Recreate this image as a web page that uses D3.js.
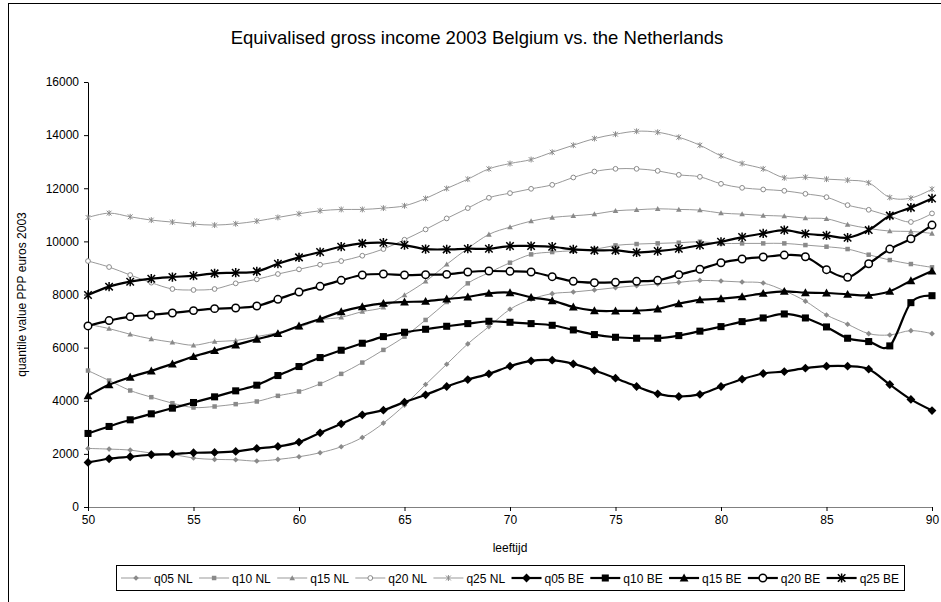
<!DOCTYPE html>
<html>
<head>
<meta charset="utf-8">
<script src="https://cdn.jsdelivr.net/npm/d3@7"></script>
<style>
  html, body { margin: 0; padding: 0; background: #fff; }
  svg { display: block; font-family: "Liberation Sans", Arial, sans-serif; }
</style>
</head>
<body>
<svg id="chart" width="941" height="602"></svg>
<script>
// Ages on the x axis
const ages = d3.range(50, 91);

// Netherlands quantiles (euros PPP, 2003)
const q05NL = [2205,2180,2143,2030,1980,1842,1792,1779,1729,1792,1892,2042,2268,2619,3158,3834,4611,5375,6140,6791,7443,7819,8032,8094,8170,8257,8332,8395,8458,8530,8508,8470,8432,8143,7750,7229,6880,6527,6477,6640,6527];
const q10NL = [5137,4761,4386,4135,3909,3746,3784,3872,3972,4185,4348,4636,5012,5438,5914,6415,7042,7718,8420,8821,9197,9510,9598,9648,9698,9849,9899,9924,9949,9986,9924,9924,9924,9924,9861,9799,9711,9498,9297,9147,9023];
const q15NL = [6879,6716,6503,6328,6202,6090,6227,6265,6415,6566,6766,7042,7142,7355,7518,7982,8495,9134,9736,10262,10538,10763,10901,10964,11026,11152,11189,11227,11202,11177,11064,11026,10976,10951,10876,10851,10638,10488,10387,10375,10300];
const q20NL = [9260,9034,8733,8445,8207,8170,8207,8420,8571,8771,8946,9122,9260,9460,9711,10062,10450,10864,11252,11640,11816,11979,12129,12405,12630,12731,12731,12655,12505,12430,12167,12016,11954,11904,11791,11665,11365,11189,10951,10730,11053];
const q25NL = [10901,11064,10926,10801,10726,10650,10613,10663,10763,10901,11039,11152,11202,11202,11252,11340,11615,11991,12342,12730,12931,13081,13357,13620,13871,14034,14146,14109,13921,13620,13219,12931,12730,12392,12417,12342,12304,12204,11653,11630,11966];

// Belgium quantiles (euros PPP, 2003)
const q05BE = [1679,1817,1892,1967,1992,2042,2055,2093,2205,2280,2443,2794,3133,3471,3646,3947,4223,4536,4799,5012,5300,5501,5526,5388,5137,4849,4536,4260,4160,4240,4536,4811,5025,5100,5225,5300,5300,5187,4611,4050,3632];
const q10BE = [2769,3032,3283,3508,3721,3934,4147,4373,4586,4949,5288,5626,5902,6165,6415,6578,6691,6804,6904,6992,6954,6904,6841,6666,6491,6390,6353,6353,6453,6620,6791,6979,7117,7267,7117,6779,6353,6228,6065,7693,7955];
const q15BE = [4185,4599,4887,5125,5388,5664,5889,6102,6315,6528,6816,7079,7355,7543,7668,7718,7744,7831,7906,8044,8069,7894,7769,7531,7393,7380,7393,7455,7656,7800,7844,7919,8044,8119,8069,8057,8007,7969,8120,8520,8883];
const q20BE = [6816,7017,7167,7230,7305,7393,7468,7493,7568,7819,8094,8307,8533,8733,8771,8733,8746,8758,8846,8884,8871,8846,8671,8495,8445,8458,8495,8533,8746,8950,9197,9335,9410,9485,9423,8934,8646,9159,9711,10099,10613];
const q25BE = [7982,8295,8483,8596,8658,8708,8796,8821,8871,9159,9398,9598,9798,9924,9949,9861,9711,9698,9723,9723,9824,9824,9798,9698,9661,9661,9585,9636,9723,9855,9986,10162,10300,10425,10287,10224,10137,10425,10970,11270,11616];

const seriesNames = ["q05 NL","q10 NL","q15 NL","q20 NL","q25 NL","q05 BE","q10 BE","q15 BE","q20 BE","q25 BE"];
const seriesValues = [q05NL,q10NL,q15NL,q20NL,q25NL,q05BE,q10BE,q15BE,q20BE,q25BE];
const markerKinds = ["diamond","square","triangle","circle","asterisk","diamond","square","triangle","circle","asterisk"];

const yTicks = [0,2000,4000,6000,8000,10000,12000,14000,16000];
const xTicks = [50,55,60,65,70,75,80,85,90];

const titleText = "Equivalised gross income 2003 Belgium vs. the Netherlands";
const xTitle = "leeftijd";
const yTitle = "quantile value PPP euros 2003";

const svg = d3.select("#chart");
const W = 941, H = 602;
const plot = { left: 88, right: 932, top: 82, bottom: 507 };
const FONT = "Liberation Sans, Arial, sans-serif";

// outer chart frame
svg.append("rect").attr("x", 8.5).attr("y", 3.5).attr("width", W + 10).attr("height", H + 10)
  .attr("fill", "#fff").attr("stroke", "#000").attr("stroke-width", 1);

const x = d3.scaleLinear().domain([50, 90]).range([plot.left, plot.right]);
const y = d3.scaleLinear().domain([0, 16000]).range([plot.bottom, plot.top]);

// title
svg.append("text").attr("x", 477).attr("y", 44).attr("text-anchor", "middle")
  .attr("font-size", 18.5).attr("fill", "#000").text(titleText);

// y axis
const yAxis = svg.append("g").attr("transform", `translate(${plot.left},0)`)
  .call(d3.axisLeft(y).tickValues(yTicks).tickSize(4).tickSizeOuter(0).tickFormat(d3.format("d")));
yAxis.select(".domain").attr("stroke", "#000");
yAxis.selectAll(".tick line").attr("stroke", "#000");
yAxis.selectAll(".tick text").attr("font-size", 12).attr("font-family", FONT).attr("fill", "#000").attr("dx", -2);

// x axis
const xAxis = svg.append("g").attr("transform", `translate(0,${plot.bottom})`)
  .call(d3.axisBottom(x).tickValues(xTicks).tickSize(4).tickSizeOuter(0));
xAxis.select(".domain").attr("stroke", "#808080");
xAxis.selectAll(".tick line").attr("stroke", "#000");
xAxis.selectAll(".tick text").attr("font-size", 12).attr("font-family", FONT).attr("fill", "#000").attr("dy", "0.85em");

// axis titles
svg.append("text").attr("x", (plot.left + plot.right) / 2).attr("y", 552).attr("text-anchor", "middle")
  .attr("font-size", 12).text(xTitle);
svg.append("text").attr("transform", `translate(26,${(plot.top + plot.bottom) / 2}) rotate(-90)`)
  .attr("text-anchor", "middle").attr("font-size", 12).text(yTitle);

// marker drawing
function drawMarker(g, kind, cx, cy, s, color, isBE) {
  const sw = isBE ? 1.5 : 1;
  if (kind === "diamond") {
    g.append("path").attr("d", `M${cx},${cy - s}L${cx + s},${cy}L${cx},${cy + s}L${cx - s},${cy}Z`).attr("fill", color);
  } else if (kind === "square") {
    g.append("rect").attr("x", cx - s * 0.8).attr("y", cy - s * 0.8).attr("width", s * 1.6).attr("height", s * 1.6).attr("fill", color);
  } else if (kind === "triangle") {
    g.append("path").attr("d", `M${cx},${cy - s}L${cx + s},${cy + s * 0.8}L${cx - s},${cy + s * 0.8}Z`).attr("fill", color);
  } else if (kind === "circle") {
    g.append("circle").attr("cx", cx).attr("cy", cy).attr("r", s * 0.85).attr("fill", "#fff").attr("stroke", color).attr("stroke-width", sw);
  } else {
    const a = s * 0.85;
    g.append("path").attr("d", `M${cx - a},${cy - a}L${cx + a},${cy + a}M${cx - a},${cy + a}L${cx + a},${cy - a}M${cx},${cy - s * 1.05}L${cx},${cy + s * 1.05}`)
      .attr("stroke", color).attr("stroke-width", sw).attr("fill", "none");
  }
}

const line = d3.line().x((d, i) => x(ages[i])).y(d => y(d)).curve(d3.curveCardinal.tension(0));

const styles = seriesNames.map((n, i) => {
  const isBE = i >= 5;
  return {
    isBE,
    lineColor: isBE ? "#000" : "#999999",
    markColor: isBE ? "#000" : "#8a8a8a",
    width: isBE ? 2.2 : 1,
    size: isBE ? 4.4 : 2.8
  };
});

const plotG = svg.append("g");
seriesValues.forEach((vals, i) => {
  const st = styles[i];
  const g = plotG.append("g");
  g.append("path").datum(vals).attr("d", line).attr("fill", "none")
    .attr("stroke", st.lineColor).attr("stroke-width", st.width);
  vals.forEach((v, j) => drawMarker(g, markerKinds[i], x(ages[j]), y(v), st.size, st.markColor, st.isBE));
});

// legend, laid out across a fixed-width box
const leg = svg.append("g");
const legY = 578;
const boxX = 116, boxR = 904;
const itemW = [];
const tmp = svg.append("g");
seriesNames.forEach(n => {
  const t = tmp.append("text").attr("font-size", 12).text(n);
  itemW.push(t.node().getComputedTextLength());
});
tmp.remove();
const lineLen = 30, gapText = 3, pad = 5;
const gapItem = ((boxR - boxX) - 2 * pad - d3.sum(itemW) - seriesNames.length * (lineLen + gapText)) / (seriesNames.length - 1);
leg.append("rect").attr("x", boxX + 0.5).attr("y", legY - 12.5).attr("width", boxR - boxX).attr("height", 25)
  .attr("fill", "#fff").attr("stroke", "#000");
let cx = boxX + pad;
seriesNames.forEach((n, i) => {
  const st = styles[i];
  const g = leg.append("g");
  g.append("line").attr("x1", cx).attr("x2", cx + lineLen).attr("y1", legY).attr("y2", legY)
    .attr("stroke", st.lineColor).attr("stroke-width", st.width);
  drawMarker(g, markerKinds[i], cx + lineLen / 2, legY, st.size, st.markColor, st.isBE);
  g.append("text").attr("x", cx + lineLen + gapText).attr("y", legY + 4.5).attr("font-size", 12).text(n);
  cx += lineLen + gapText + itemW[i] + gapItem;
});
</script>
</body>
</html>
